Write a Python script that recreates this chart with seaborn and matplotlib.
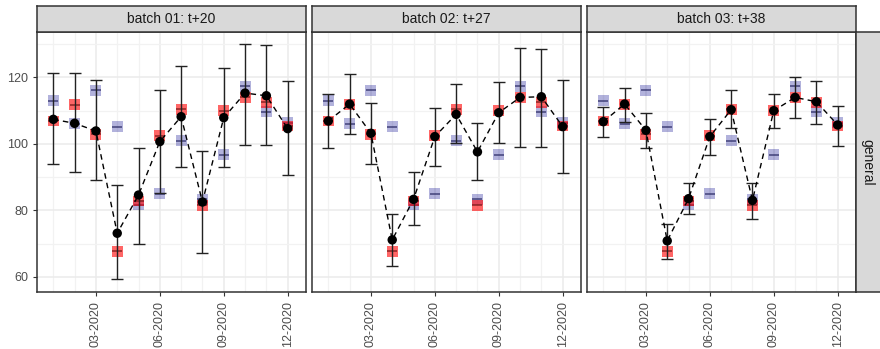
import matplotlib
matplotlib.use("Agg")
import pandas as pd
import matplotlib.pyplot as plt
import seaborn as sns
from matplotlib.ticker import FixedLocator

# --- data ---
months = list(range(1, 13))
tick_months = [3, 6, 9, 12]
tick_labels = ["03-2020", "06-2020", "09-2020", "12-2020"]
batches = ["batch 01: t+20", "batch 02: t+27", "batch 03: t+38"]
row_label = "general"

actual = [106.9, 111.8, 102.9, 67.7, 82.8, 102.4, 110.5, 81.5, 110.0, 114.0, 112.5, 105.4]
reference = [113.0, 106.1, 116.2, 105.2, 81.6, 85.0, 100.9, 83.3, 96.7, 117.3, 109.7, 106.4]

pred_b1 = [107.4, 106.2, 103.9, 73.1, 84.6, 100.7, 108.2, 82.5, 107.9, 115.3, 114.5, 104.6]
low_b1 = [93.8, 91.4, 89.1, 59.2, 70.0, 85.2, 93.1, 67.2, 93.1, 99.7, 99.7, 90.7]
high_b1 = [121.5, 121.5, 119.2, 87.6, 98.9, 116.2, 123.5, 98.0, 123.0, 130.2, 129.8, 118.8]

pred_b2 = [106.9, 112.0, 103.2, 71.1, 83.3, 102.2, 108.9, 97.6, 109.4, 114.0, 114.2, 105.2]
low_b2 = [98.9, 103.1, 93.9, 63.2, 75.5, 93.4, 100.4, 89.0, 100.4, 99.2, 99.2, 91.1]
high_b2 = [115.0, 121.2, 112.2, 79.0, 91.4, 110.7, 118.0, 106.2, 118.5, 128.8, 128.5, 119.2]

pred_b3 = [106.7, 112.0, 104.1, 70.8, 83.5, 102.2, 110.3, 83.0, 110.0, 114.0, 112.7, 105.7]
low_b3 = [102.1, 106.5, 98.9, 65.2, 79.0, 96.6, 104.7, 77.3, 104.7, 107.9, 105.9, 99.4]
high_b3 = [111.0, 116.8, 109.4, 75.8, 88.3, 107.6, 116.2, 88.1, 115.0, 120.0, 118.8, 111.5]

preds = [pred_b1, pred_b2, pred_b3]
lows = [low_b1, low_b2, low_b3]
highs = [high_b1, high_b2, high_b3]

sns.set_theme(style="white")
plt.rcParams['font.family'] = ['Liberation Sans', 'DejaVu Sans']

W, H = 880, 349
fig = plt.figure(figsize=(W / 100, H / 100), dpi=100)

panel_left = [37, 312, 587]
panel_w = 269
panel_top, panel_bot = 32, 292
strip_top = 6
border = "#333333"

obs = pd.DataFrame({"month": months, "actual": actual, "reference": reference})

for i, batch in enumerate(batches):
    x0 = panel_left[i]
    ax = fig.add_axes([x0 / W, (H - panel_bot) / H, panel_w / W, (panel_bot - panel_top) / H])
    df = pd.DataFrame({"month": months, "pred": preds[i], "low": lows[i], "high": highs[i]})

    # grid
    ax.set_xlim(0.235, 12.86)
    ax.set_ylim(55.4, 133.7)
    ax.xaxis.set_major_locator(FixedLocator(tick_months))
    ax.xaxis.set_minor_locator(FixedLocator([m for m in months if m not in tick_months]))
    ax.yaxis.set_major_locator(FixedLocator([60, 80, 100, 120]))
    ax.yaxis.set_minor_locator(FixedLocator([70, 90, 110, 130]))
    ax.grid(which="major", color="#EBEBEB", lw=1.1)
    ax.grid(which="minor", color="#F2F2F2", lw=0.9)
    ax.set_axisbelow(True)

    # observed values (same in every panel)
    sns.scatterplot(data=obs, x="month", y="reference", marker="s", s=62, color="#00008B",
                    alpha=0.3, edgecolor="none", ax=ax, legend=False, zorder=2)
    ax.plot(obs["month"], obs["reference"], ls="none", marker="_", ms=6.5, mew=1.2,
            color="#30306A", alpha=0.8, zorder=2.1)
    sns.scatterplot(data=obs, x="month", y="actual", marker="s", s=62, color="#FF0000",
                    alpha=0.6, edgecolor="none", ax=ax, legend=False, zorder=3)
    ax.plot(obs["month"], obs["actual"], ls="none", marker="_", ms=6.5, mew=1.2,
            color="#7A1A1A", alpha=0.8, zorder=3.1)

    # prediction with interval
    ax.errorbar(df["month"], df["pred"],
                yerr=[df["pred"] - df["low"], df["high"] - df["pred"]],
                fmt="none", ecolor="#222222", elinewidth=1.0, capsize=4, capthick=1.0, zorder=4)
    sns.lineplot(data=df, x="month", y="pred", color="black", lw=1.0, ax=ax,
                 linestyle=(0, (4, 3)), zorder=5)
    sns.scatterplot(data=df, x="month", y="pred", color="black", s=46, edgecolor="none",
                    ax=ax, legend=False, zorder=6)

    ax.set_xlabel("")
    ax.set_ylabel("")
    ax.set_xticklabels(tick_labels, rotation=90, fontsize=9, color="#4D4D4D")
    ax.tick_params(axis="both", which="major", length=3, color=border, width=0.8,
                   bottom=True, left=(i == 0))
    ax.tick_params(which="minor", length=0)
    if i == 0:
        ax.set_yticklabels(["60", "80", "100", "120"], fontsize=9, color="#4D4D4D")
    else:
        ax.set_yticklabels([])
    for sp in ax.spines.values():
        sp.set_color(border)
        sp.set_linewidth(1.1)
        sp.set_visible(True)

    # top strip
    sax = fig.add_axes([x0 / W, (H - panel_top) / H, panel_w / W, (panel_top - strip_top) / H])
    sax.set_facecolor("#D9D9D9")
    sax.set_xticks([])
    sax.set_yticks([])
    for sp in sax.spines.values():
        sp.set_color(border)
        sp.set_linewidth(1.1)
    sax.text(0.5, 0.5, batch, ha="center", va="center", fontsize=10, color="#1A1A1A",
             transform=sax.transAxes)

# right strip
x_r = panel_left[-1] + panel_w
rax = fig.add_axes([x_r / W, (H - panel_bot) / H, 26 / W, (panel_bot - panel_top) / H])
rax.set_facecolor("#D9D9D9")
rax.set_xticks([])
rax.set_yticks([])
for sp in rax.spines.values():
    sp.set_color(border)
    sp.set_linewidth(1.1)
rax.text(0.45, 0.5, row_label, ha="center", va="center", rotation=-90, fontsize=10,
         color="#1A1A1A", transform=rax.transAxes)

fig.savefig("out.png", dpi=100)
